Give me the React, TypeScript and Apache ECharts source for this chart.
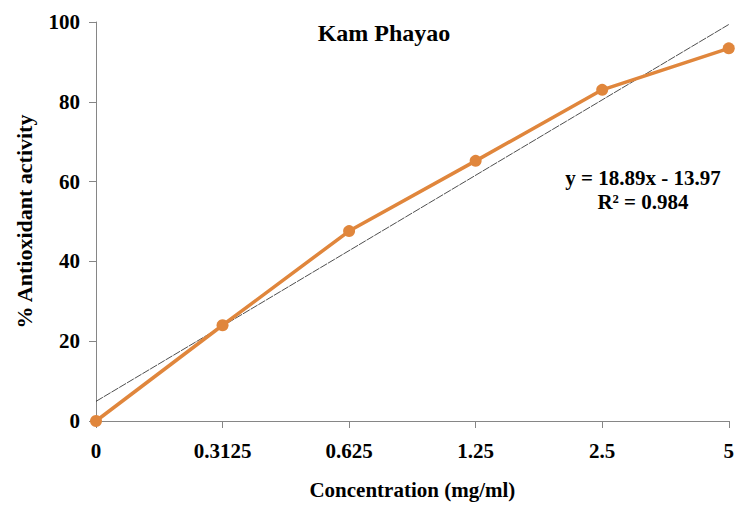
import React, { useEffect, useRef } from "react";
import * as echarts from "echarts";

const categories = ["0", "0.3125", "0.625", "1.25", "2.5", "5"];
const activity = [0, 24.0, 47.6, 65.2, 83.0, 93.4];
const trendStart = 4.92;
const trendEnd = 99.37;
const yTicks = { min: 0, max: 100, interval: 20 };
const titleText = "Kam Phayao";
const equationLine1 = "y = 18.89x - 13.97";
const equationLine2 = "R² = 0.984";

const FONT = "'Liberation Serif', 'Times New Roman', serif";

export default function App() {
  const ref = useRef<HTMLDivElement>(null);
  useEffect(() => {
    document.body.style.margin = "0";
    const chart = echarts.init(ref.current!, null, { renderer: "svg" });
    chart.setOption({
      animation: false,
      backgroundColor: "#ffffff",
      textStyle: { fontFamily: FONT },
      title: {
        text: titleText,
        left: 379,
        top: 16,
        textAlign: "center",
        textStyle: { fontFamily: FONT, fontWeight: "bold", fontSize: 24, color: "#000" },
      },
      grid: { left: 96, right: 8, top: 22, bottom: 80, containLabel: false },
      xAxis: {
        type: "category",
        data: categories,
        boundaryGap: false,
        name: "Concentration (mg/ml)",
        nameLocation: "middle",
        nameGap: 58,
        nameTextStyle: { fontFamily: FONT, fontWeight: "bold", fontSize: 21, color: "#000" },
        axisLine: { lineStyle: { color: "#868686", width: 1 } },
        axisTick: { show: true, length: 7, alignWithLabel: true, lineStyle: { color: "#868686" } },
        axisLabel: { fontFamily: FONT, fontWeight: "bold", fontSize: 21, color: "#000", margin: 19 },
        splitLine: { show: false },
      },
      yAxis: {
        type: "value",
        min: yTicks.min,
        max: yTicks.max,
        interval: yTicks.interval,
        name: "% Antioxidant activity",
        nameLocation: "middle",
        nameGap: 61,
        nameRotate: 90,
        nameTextStyle: { fontFamily: FONT, fontWeight: "bold", fontSize: 22, color: "#000" },
        axisLine: { show: true, lineStyle: { color: "#868686", width: 1 } },
        axisTick: { show: true, length: 7, lineStyle: { color: "#868686" } },
        axisLabel: { fontFamily: FONT, fontWeight: "bold", fontSize: 21, color: "#000", margin: 16 },
        splitLine: { show: false },
      },
      series: [
        {
          type: "line",
          data: [
            [0, trendStart],
            [categories.length - 1, trendEnd],
          ],
          symbol: "none",
          lineStyle: { color: "#222", width: 0.8, type: [8, 1] },
          z: 3,
        },
        {
          type: "line",
          data: activity,
          symbol: "circle",
          symbolSize: 12,
          itemStyle: { color: "#E0863C" },
          lineStyle: { color: "#E0863C", width: 3.5 },
          z: 4,
        },
      ],
      graphic: [
        {
          type: "text",
          x: 643,
          y: 178,
          style: { text: equationLine1, font: `bold 21px ${FONT}`, fill: "#000", align: "center", verticalAlign: "middle" },
        },
        {
          type: "text",
          x: 643,
          y: 202,
          style: { text: equationLine2, font: `bold 21px ${FONT}`, fill: "#000", align: "center", verticalAlign: "middle" },
        },
      ],
    });
    return () => chart.dispose();
  }, []);
  return <div ref={ref} style={{ width: 737, height: 505 }} />;
}
